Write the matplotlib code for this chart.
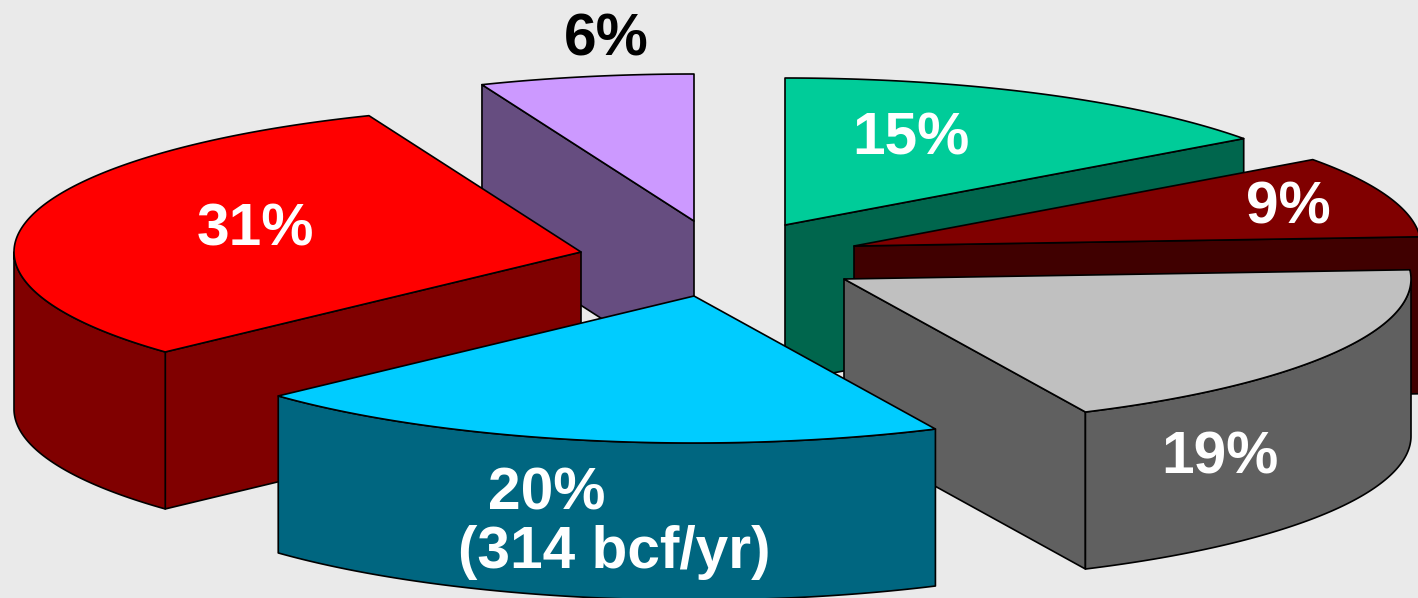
import numpy as np
import matplotlib
matplotlib.use('Agg')
import matplotlib.pyplot as plt
from matplotlib.patches import Polygon
from matplotlib.colors import to_rgb

# pie shares, clockwise, starting with the purple slice
names = ['purple', 'green', 'maroon', 'gray', 'blue', 'red']
shares = [6.1, 15, 9, 19, 20.1, 30.8]
top_colors = ['#CC99FF', '#00CC99', '#800000', '#C0C0C0', '#00CCFF', '#FF0000']

# where each exploded slice has its tip, in pixels
tip_x = [694, 785, 854, 844, 694, 581]
tip_y = [221, 225, 246, 279, 296, 252]

draw_order = ['purple', 'green', 'maroon', 'red', 'gray', 'blue']

rx = 567
ry = 147
depth = 157

def ell(t, cx, cy):
    return cx + rx * np.sin(t), cy - ry * np.cos(t)

def add_face(ax, x, y, color):
    ax.add_patch(Polygon(np.column_stack([x, y]), closed=True, facecolor=color,
                         edgecolor='black', lw=1.2, joinstyle='round'))

fig = plt.figure(figsize=(14.18, 5.98), dpi=100, facecolor='#EAEAEA')
ax = fig.add_axes([0, 0, 1, 1])
ax.set_xlim(0, 1418)
ax.set_ylim(598, 0)
ax.axis('off')

# angle of each slice start/end, the pie begins at the top and purple ends there
ends = np.cumsum(shares) * 2 * np.pi / 100
starts = ends - np.array(shares) * 2 * np.pi / 100
offset = -shares[0] * 2 * np.pi / 100
starts = starts + offset
ends = ends + offset

for name in draw_order:
    i = names.index(name)
    t0, t1 = starts[i], ends[i]
    cx, cy = tip_x[i], tip_y[i]
    col = top_colors[i]
    dark = tuple(c * 0.5 for c in to_rgb(col))

    # flat sides, only those facing the viewer
    if np.sin(t0) < -1e-6:
        ex, ey = ell(t0, cx, cy)
        add_face(ax, [cx, ex, ex, cx], [cy, ey, ey + depth, cy + depth], dark)
    if np.sin(t1) > 1e-6:
        ex, ey = ell(t1, cx, cy)
        add_face(ax, [cx, ex, ex, cx], [cy, ey, ey + depth, cy + depth], dark)

    # outer wall, the part of the rim on the front half
    a = max(t0, np.pi / 2)
    b = min(t1, 3 * np.pi / 2)
    if b > a:
        tt = np.linspace(a, b, 120)
        ax_x, ax_y = ell(tt, cx, cy)
        add_face(ax, np.r_[ax_x, ax_x[::-1]], np.r_[ax_y, ax_y[::-1] + depth], dark)

    # top
    tt = np.linspace(t0, t1, 200)
    px, py = ell(tt, cx, cy)
    add_face(ax, np.r_[cx, px], np.r_[cy, py], col)

font = dict(family='Liberation Sans', fontweight='bold', fontsize=42.2, ha='center', va='center')
ax.text(606, 40, '6%', color='black', **font)
ax.text(911, 139, '15%', color='white', **font)
ax.text(1288, 208, '9%', color='white', **font)
ax.text(1220, 458, '19%', color='white', **font)
ax.text(547, 494, '20%', color='white', **font)
ax.text(614, 552, '(314 bcf/yr)', color='white', **font)
ax.text(255, 230, '31%', color='white', **font)

fig.savefig('out.png', dpi=100, facecolor=fig.get_facecolor())
